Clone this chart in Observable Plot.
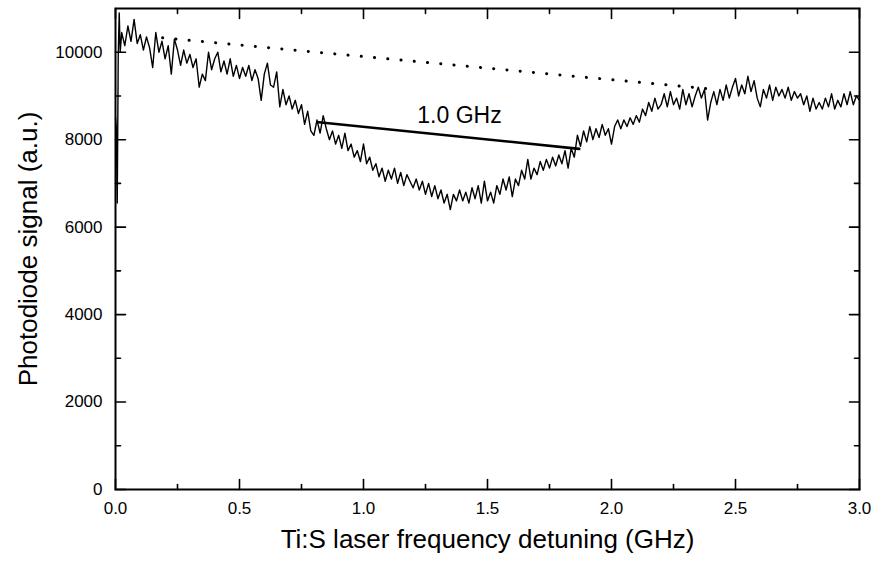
<!DOCTYPE html>
<html>
<head>
<meta charset="utf-8">
<script src="https://cdn.jsdelivr.net/npm/d3@7"></script>
<script src="https://cdn.jsdelivr.net/npm/@observablehq/plot@0.6"></script>
<style>
  html, body { margin: 0; padding: 0; background: #fff; }
  #chart svg { display: block; }
</style>
</head>
<body>
<div id="chart"></div>
<script>
// Measured trace: laser detuning (GHz) and photodiode signal (a.u.)
const detuning = [
  0.000, 0.003, 0.007, 0.011, 0.015, 0.019,
  0.025, 0.0375, 0.050, 0.0625, 0.075, 0.0875, 0.100, 0.1125, 0.125, 0.1375,
  0.150, 0.1625, 0.175, 0.1875, 0.200, 0.2125, 0.225, 0.2375, 0.250, 0.2625,
  0.275, 0.2875, 0.300, 0.3125, 0.325, 0.3375, 0.350, 0.3625, 0.375, 0.3875,
  0.400, 0.4125, 0.425, 0.4375, 0.450, 0.4625, 0.475, 0.4875, 0.500, 0.5125,
  0.525, 0.5375, 0.550, 0.5625, 0.575, 0.5875, 0.600, 0.6125, 0.625, 0.6375,
  0.650, 0.6625, 0.675, 0.6875, 0.700, 0.7125, 0.725, 0.7375, 0.750, 0.7625,
  0.775, 0.7875, 0.800, 0.8125, 0.825, 0.8375, 0.850, 0.8625, 0.875, 0.8875,
  0.900, 0.9125, 0.925, 0.9375, 0.950, 0.9625, 0.975, 0.9875, 1.000, 1.0125,
  1.025, 1.0375, 1.050, 1.0625, 1.075, 1.0875, 1.100, 1.1125, 1.125, 1.1375,
  1.150, 1.1625, 1.175, 1.1875, 1.200, 1.2125, 1.225, 1.2375, 1.250, 1.2625,
  1.275, 1.2875, 1.300, 1.3125, 1.325, 1.3375, 1.350, 1.3625, 1.375, 1.3875,
  1.400, 1.4125, 1.425, 1.4375, 1.450, 1.4625, 1.475, 1.4875, 1.500, 1.5125,
  1.525, 1.5375, 1.550, 1.5625, 1.575, 1.5875, 1.600, 1.6125, 1.625, 1.6375,
  1.650, 1.6625, 1.675, 1.6875, 1.700, 1.7125, 1.725, 1.7375, 1.750, 1.7625,
  1.775, 1.7875, 1.800, 1.8125, 1.825, 1.8375, 1.850, 1.8625, 1.875, 1.8875,
  1.900, 1.9125, 1.925, 1.9375, 1.950, 1.9625, 1.975, 1.9875, 2.000, 2.0125,
  2.025, 2.0375, 2.050, 2.0625, 2.075, 2.0875, 2.100, 2.1125, 2.125, 2.1375,
  2.150, 2.1625, 2.175, 2.1875, 2.200, 2.2125, 2.225, 2.2375, 2.250, 2.2625,
  2.275, 2.2875, 2.300, 2.3125, 2.325, 2.3375, 2.350, 2.3625, 2.375, 2.3875,
  2.400, 2.4125, 2.425, 2.4375, 2.450, 2.4625, 2.475, 2.4875, 2.500, 2.5125,
  2.525, 2.5375, 2.550, 2.5625, 2.575, 2.5875, 2.600, 2.6125, 2.625, 2.6375,
  2.650, 2.6625, 2.675, 2.6875, 2.700, 2.7125, 2.725, 2.7375, 2.750, 2.7625,
  2.775, 2.7875, 2.800, 2.8125, 2.825, 2.8375, 2.850, 2.8625, 2.875, 2.8875,
  2.900, 2.9125, 2.925, 2.9375, 2.950, 2.9625, 2.975, 2.9875, 3.000
];
const signal = [
  8500, 8300, 6550, 9900, 10900, 10000,
  10450, 10150, 10600, 10250, 10750, 10200, 10400, 10050, 10350, 10100,
  9650, 10450, 10000, 10250, 9850, 10150, 9500, 10300, 10050, 9700,
  10050, 9750, 9950, 9650, 9850, 9200, 9500, 9350, 10000, 9600,
  9850, 10000, 9550, 9800, 9500, 9850, 9450, 9700, 9400, 9650,
  9450, 9700, 9350, 9600, 9400, 8900, 9500, 9750, 9250, 9200,
  9550, 8750, 9150, 8800, 9000, 8700, 8900, 8600, 8800, 8350,
  8650, 8200, 8100, 8450, 8150, 8550, 8250, 8000, 8200, 7900,
  8100, 7800, 8150, 7750, 7900, 7600, 7750, 7500, 7900, 7450,
  7600, 7300, 7450, 7150, 7350, 7050, 7300, 7100, 7350, 7000,
  7250, 6950, 7200, 7050, 6900, 7100, 6850, 7050, 6750, 7000,
  6700, 6950, 6650, 6850, 6550, 6750, 6400, 6750, 6600, 6850,
  6600, 6800, 6550, 6900, 6650, 6950, 6550, 7050, 6600, 6800,
  6550, 6950, 6750, 7100, 6850, 7150, 6700, 7100, 6950, 7300,
  7100, 7550, 7100, 7350, 7200, 7500, 7300, 7550, 7350, 7600,
  7400, 7650, 7450, 7750, 7350, 7800, 7600, 8100, 7850, 8200,
  7950, 8300, 8000, 8250, 8050, 8350, 8100, 8250, 7900, 8300,
  8450, 8250, 8450, 8300, 8500, 8350, 8550, 8400, 8700, 8550,
  8850, 8650, 8950, 8700, 8800, 9050, 8750, 9100, 8800, 8950,
  8700, 9150, 8800, 9050, 8750, 9000, 9200, 8950, 9150, 8450,
  8850, 9100, 8800, 9150, 8900, 9250, 8950, 9200, 9400, 9000,
  9250, 9050, 9450, 9100, 9350, 8950, 8750, 9150, 8950, 9250,
  8900, 9200, 9000, 9150, 8950, 9200, 8900, 9100, 8950, 9050,
  8800, 9000, 8650, 8950, 8700, 8850, 8700, 8950, 8750, 9050,
  8700, 8900, 8750, 9050, 8800, 9100, 8800, 9000, 8900
];

// Off-resonance baseline (dotted) and the 1.0 GHz width marker (solid)
const baselineX = [0.19, 2.38];
const baselineY = [10330, 9170];
const widthX = [0.82, 1.87];
const widthY = [8400, 7790];
const annotationText = ["1.0 GHz"];
const annotationX = [1.387];
const annotationY = [8560];

// Axis ticks and titles
const xMajorTicks = [0, 0.5, 1.0, 1.5, 2.0, 2.5, 3.0];
const xMinorTicks = [0.25, 0.75, 1.25, 1.75, 2.25, 2.75];
const yMajorTicks = [0, 2000, 4000, 6000, 8000, 10000];
const yMinorTicks = [1000, 3000, 5000, 7000, 9000];
const xTitle = "Ti:S laser frequency detuning (GHz)";
const yTitle = "Photodiode signal (a.u.)";

const trace = detuning.map((x, i) => ({x, y: signal[i]}));
const baseline = baselineX.map((x, i) => ({x, y: baselineY[i]}));
const widthLine = widthX.map((x, i) => ({x, y: widthY[i]}));
const annotation = annotationText.map((t, i) => ({t, x: annotationX[i], y: annotationY[i]}));

// straight tick shape for vectors (drawn from the anchor along the vector direction)
const tickShape = {draw(context, l) { context.moveTo(0, 0); context.lineTo(0, -l); }};
const tickStyle = {shape: tickShape, anchor: "start", stroke: "#000", strokeWidth: 1.6};

const chart = Plot.plot({
  width: 874,
  height: 567,
  marginLeft: 115,
  marginRight: 15,
  marginTop: 8,
  marginBottom: 78,
  style: {fontFamily: "'Liberation Sans', Arial, sans-serif", color: "#000", background: "#fff"},
  x: {domain: [0, 3], axis: null},
  y: {domain: [0, 11000], axis: null},
  marks: [
    // inward tick marks on all four sides
    Plot.vector(xMajorTicks, {x: d => d, frameAnchor: "bottom", length: 10, rotate: 0, ...tickStyle}),
    Plot.vector(xMinorTicks, {x: d => d, frameAnchor: "bottom", length: 5, rotate: 0, ...tickStyle}),
    Plot.vector(xMajorTicks, {x: d => d, frameAnchor: "top", length: 10, rotate: 180, ...tickStyle}),
    Plot.vector(xMinorTicks, {x: d => d, frameAnchor: "top", length: 5, rotate: 180, ...tickStyle}),
    Plot.vector(yMajorTicks, {y: d => d, frameAnchor: "left", length: 10, rotate: 90, ...tickStyle}),
    Plot.vector(yMinorTicks, {y: d => d, frameAnchor: "left", length: 5, rotate: 90, ...tickStyle}),
    Plot.vector(yMajorTicks, {y: d => d, frameAnchor: "right", length: 10, rotate: -90, ...tickStyle}),
    Plot.vector(yMinorTicks, {y: d => d, frameAnchor: "right", length: 5, rotate: -90, ...tickStyle}),
    // tick labels
    Plot.axisX(xMajorTicks, {anchor: "bottom", tickSize: 0, tickPadding: 12, tickFormat: d3.format(".1f"), fontSize: 17, label: null}),
    Plot.axisY(yMajorTicks, {anchor: "left", tickSize: 0, tickPadding: 13, tickFormat: d => String(d), fontSize: 17, label: null}),
    // axis titles
    Plot.text([xTitle], {frameAnchor: "bottom", dy: 58, fontSize: 26, fill: "#000"}),
    Plot.text([yTitle], {frameAnchor: "left", textAnchor: "middle", dx: -87, rotate: -90, fontSize: 26, fill: "#000"}),
    // data
    Plot.line(baseline, {x: "x", y: "y", stroke: "#000", strokeWidth: 3, strokeDasharray: "0.1 13.2", strokeLinecap: "round"}),
    Plot.line(trace, {x: "x", y: "y", stroke: "#000", strokeWidth: 1.4, strokeLinejoin: "round"}),
    Plot.line(widthLine, {x: "x", y: "y", stroke: "#000", strokeWidth: 2.6}),
    Plot.text(annotation, {x: "x", y: "y", text: "t", fontSize: 23, fill: "#000"}),
    Plot.frame({stroke: "#000", strokeWidth: 2})
  ]
});
document.getElementById("chart").appendChild(chart);
</script>
</body>
</html>
